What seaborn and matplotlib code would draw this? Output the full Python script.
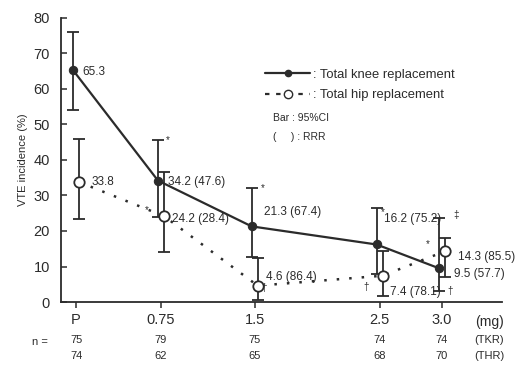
import matplotlib
matplotlib.use("Agg")
import matplotlib.pyplot as plt
import matplotlib.transforms as mtransforms
from matplotlib.lines import Line2D
import seaborn as sns
import pandas as pd
import numpy as np

# ---- data ----
dose_labels = ["P", "0.75", "1.5", "2.5", "3.0"]
dose_pos = [0.07, 0.75, 1.5, 2.5, 3.0]

tkr_val = [65.3, 34.2, 21.3, 16.2, 9.5]
tkr_lo = [54.0, 24.0, 12.7, 8.0, 3.0]
tkr_hi = [76.0, 45.6, 32.1, 26.5, 23.6]
tkr_lab = ["65.3", "34.2 (47.6)", "21.3 (67.4)", "16.2 (75.2)", "9.5 (57.7)"]
tkr_n = [75, 79, 75, 74, 74]

thr_val = [33.8, 24.2, 4.6, 7.4, 14.3]
thr_lo = [23.4, 14.1, 0.5, 1.7, 7.0]
thr_hi = [45.8, 36.6, 12.4, 14.5, 18.0]
thr_lab = ["33.8", "24.2 (28.4)", "4.6 (86.4)", "7.4 (78.1)", "14.3 (85.5)"]
thr_n = [74, 62, 65, 68, 70]

C = "#2b2b2b"
sns.set_theme(style="white")
plt.rcParams["font.family"] = ["Liberation Sans", "DejaVu Sans"]

fig = plt.figure(figsize=(5.19, 3.65), dpi=100)
ax = fig.add_axes([0.1175, 0.1726, 0.8497, 0.7781])

off = 0.024
tkr_x = [p - off for p in dose_pos]
thr_x = [p + off for p in dose_pos]

df = pd.DataFrame({
    "x": tkr_x + thr_x,
    "y": tkr_val + thr_val,
    "g": [": Total knee replacement"] * 5 + [": Total hip replacement"] * 5,
})

# error bars
ax.errorbar(tkr_x, tkr_val,
            yerr=[np.array(tkr_val) - np.array(tkr_lo), np.array(tkr_hi) - np.array(tkr_val)],
            fmt="none", ecolor=C, elinewidth=1.3, capsize=4, capthick=1.3, zorder=2)
ax.errorbar(thr_x, thr_val,
            yerr=[np.array(thr_val) - np.array(thr_lo), np.array(thr_hi) - np.array(thr_val)],
            fmt="none", ecolor=C, elinewidth=1.3, capsize=4, capthick=1.3, zorder=2)

sns.lineplot(data=df[df.g.str.contains("knee")], x="x", y="y", ax=ax, color=C,
             lw=1.6, marker="o", markersize=6, markerfacecolor=C, markeredgecolor=C,
             sort=False, legend=False, zorder=4)
sns.lineplot(data=df[df.g.str.contains("hip")], x="x", y="y", ax=ax, color=C,
             lw=1.8, linestyle=(0, (1, 4)), marker="o", markersize=7.5,
             markerfacecolor="white", markeredgecolor=C, markeredgewidth=1.3,
             sort=False, legend=False, zorder=5)

ax.set_xlim(-0.0506, 3.48)
ax.set_ylim(0, 80)
ax.set_yticks(range(0, 81, 10))
ax.set_xticks(dose_pos)
ax.set_xticklabels(dose_labels)
for s in ["top", "right"]:
    ax.spines[s].set_visible(False)
for s in ["left", "bottom"]:
    ax.spines[s].set_color(C)
    ax.spines[s].set_linewidth(1.3)
ax.tick_params(axis="y", direction="in", length=4, width=1.1, color=C, pad=8,
               labelsize=10.5, labelcolor=C, left=True)
ax.tick_params(axis="x", direction="out", length=4, width=1.1, color=C, pad=4,
               labelsize=10.5, labelcolor=C, bottom=True)
ax.set_xlabel("")
ax.set_ylabel("VTE incidence (%)", fontsize=8, color=C, labelpad=4)

# value annotations
ann_fs = 8.5
tkr_dxy = [(7, -1), (7, -1), (9, 10), (5, 18), (11, -4)]
thr_dxy = [(9, 0), (6, -2), (6, 6), (5, -12), (9, -4)]
for x, y, t, (dx, dy) in zip(tkr_x, tkr_val, tkr_lab, tkr_dxy):
    ax.annotate(t, (x, y), xytext=(dx, dy), textcoords="offset points",
                fontsize=ann_fs, color=C, va="center", ha="left")
for x, y, t, (dx, dy) in zip(thr_x, thr_val, thr_lab, thr_dxy):
    ax.annotate(t, (x, y), xytext=(dx, dy), textcoords="offset points",
                fontsize=ann_fs, color=C, va="center", ha="left")

# significance symbols
sym = [("*", 0.75, 45.6, 5, 0), ("*", 1.5, 32.1, 6, 0), ("*", 2.5, 26.5, 2, -3),
       ("‡", 3.0, 23.6, 10, 2), ("*", 3.0, 18.0, -10, -4), ("†", 1.5, 4.6, 7, -2),
       ("†", 2.5, 7.4, -10, -8), ("†", 3.0, 7.0, 6, -10), ("*", 0.75, 24.2, -10, 4)]
for s, x, y, dx, dy in sym:
    ax.annotate(s, (x, y), xytext=(dx, dy), textcoords="offset points",
                fontsize=7, color=C, va="center", ha="center")

# legend
handles = [Line2D([], [], color=C, lw=1.6, marker="o", markersize=4.5),
           Line2D([], [], color=C, lw=1.6, linestyle=(0, (2, 3)), marker="o",
                  markersize=6, markerfacecolor="white", markeredgecolor=C)]
ax.legend(handles, [": Total knee replacement", ": Total hip replacement"],
          loc="upper left", bbox_to_anchor=(0.462, 0.822), frameon=False,
          handlelength=3.5, handletextpad=0.2, borderaxespad=0, borderpad=0,
          labelspacing=0.65, fontsize=9.4, labelcolor=C)
ax.text(0.48, 0.648, "Bar : 95%CI", transform=ax.transAxes, fontsize=7.5, color=C, va="center")
ax.text(0.48, 0.581, "(     ) : RRR", transform=ax.transAxes, fontsize=7.5, color=C, va="center")

# n rows
tr = mtransforms.blended_transform_factory(ax.transData, ax.transAxes)
ax.text(3.38, -0.07, "(mg)", transform=tr, fontsize=10, color=C, ha="center", va="center")
ax.text(-0.22, -0.142, "n =", transform=tr, fontsize=8, color=C, ha="center", va="center")
for x, a, b in zip(dose_pos, tkr_n, thr_n):
    ax.text(x, -0.134, str(a), transform=tr, fontsize=8, color=C, ha="center", va="center")
    ax.text(x, -0.19, str(b), transform=tr, fontsize=8, color=C, ha="center", va="center")
ax.text(3.38, -0.134, "(TKR)", transform=tr, fontsize=8, color=C, ha="center", va="center")
ax.text(3.38, -0.19, "(THR)", transform=tr, fontsize=8, color=C, ha="center", va="center")

fig.savefig("out.png", dpi=100)
